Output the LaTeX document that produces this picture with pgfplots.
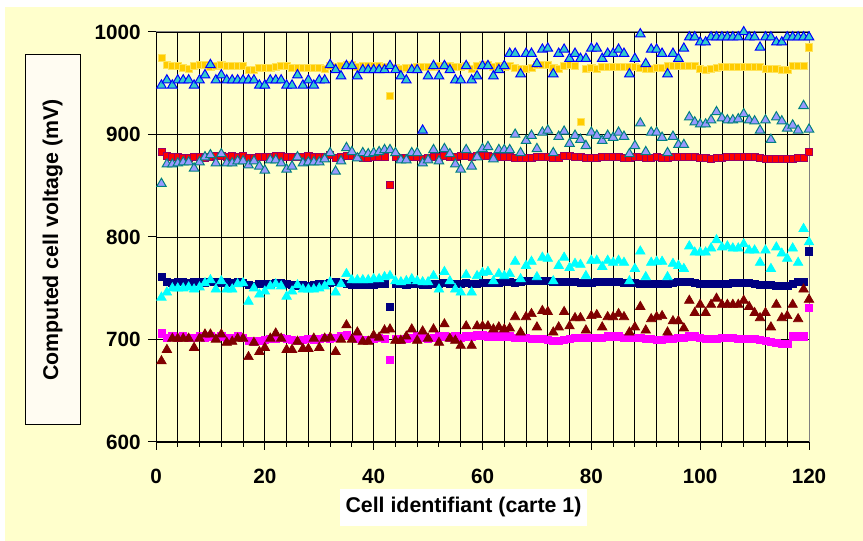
\documentclass[border=0pt]{standalone}
\usepackage{pgfplots}
\pgfplotsset{compat=1.18}
\usepackage{pgfplotstable}
\usepackage{fontspec}
\setmainfont{Liberation Sans}

\definecolor{bgyel}{RGB}{255,255,204}
\definecolor{boxfill}{RGB}{255,252,242}
\definecolor{gold}{RGB}{255,204,0}
\definecolor{goldedge}{RGB}{255,228,90}
\definecolor{redsq}{RGB}{255,0,0}
\definecolor{rededge}{RGB}{153,0,102}
\definecolor{navysq}{RGB}{0,0,128}
\definecolor{magsq}{RGB}{255,0,255}
\definecolor{bluetri}{RGB}{51,204,204}
\definecolor{blueedge}{RGB}{0,0,255}
\definecolor{lavtri}{RGB}{153,153,255}
\definecolor{lavedge}{RGB}{0,128,128}
\definecolor{cyantri}{RGB}{0,255,255}
\definecolor{maroontri}{RGB}{128,0,0}

% cell, then the eight measured voltages (mV)
\pgfplotstableread{
x   yel  blu  red  lav  cya  nav  mar  mag
1   975  948  883  852  741  761  679  706
2   968  953  879  871  746  756  690  702
3   967  948  878  871  750  755  701  703
4   967  953  878  872  750  756  701  702
5   965  953  877  873  750  756  701  703
6   964  953  877  873  751  755  701  702
7   967  948  878  867  749  756  692  702
8   968  953  878  873  751  756  701  703
9   968  958  877  878  755  755  705  702
10  966  968  878  880  758  756  705  703
11  967  953  879  872  749  756  700  702
12  968  958  879  881  757  755  705  703
13  967  953  878  872  749  756  697  702
14  967  953  879  872  749  755  698  702
15  967  953  878  874  754  756  701  703
16  967  953  879  874  755  755  701  702
17  963  953  877  870  737  753  683  699
18  963  953  877  874  750  752  697  698
19  965  948  878  869  744  754  688  699
20  965  948  878  865  747  754  692  700
21  965  953  878  875  752  754  701  701
22  966  953  879  875  754  755  706  701
23  967  953  879  872  752  755  701  702
24  967  948  878  866  742  754  690  701
25  965  948  878  869  747  753  690  700
26  965  958  878  878  753  752  698  699
27  965  948  878  872  749  753  691  700
28  965  953  879  873  749  752  691  701
29  965  948  878  873  749  753  701  700
30  965  953  878  873  750  754  692  701
31  964  953  878  876  752  754  701  702
32  967  968  880  882  756  755  702  701
33  966  963  877  864  746  756  688  702
34  967  957  878  874  754  755  700  703
35  968  967  879  887  764  754  714  704
36  968  967  879  883  758  753  700  702
37  966  957  878  877  758  753  707  701
38  967  963  877  882  758  753  698  700
39  967  963  877  881  758  753  698  700
40  967  963  878  882  759  753  704  701
41  967  963  878  883  759  754  702  702
42  966  963  878  885  761  754  709  701
43  938  967  851  885  762  732  710  680
44  965  963  878  882  757  754  699  701
45  964  957  877  875  756  754  699  700
46  965  953  877  875  757  753  703  701
47  965  963  878  882  759  754  710  702
48  966  963  878  882  757  754  699  703
49  966  904  876  872  756  753  708  702
50  966  957  877  875  756  753  701  701
51  966  967  878  885  762  754  710  702
52  967  957  878  874  749  754  697  703
53  967  967  879  886  766  755  715  703
54  967  963  878  881  757  754  701  702
55  966  953  878  871  749  754  699  703
56  966  953  879  866  746  754  694  702
57  967  967  879  885  763  755  713  703
58  964  953  878  869  746  754  694  703
59  967  957  879  878  762  754  713  704
60  968  967  879  886  765  755  713  704
61  968  967  879  888  766  755  713  703
62  966  957  878  876  757  755  710  703
63  967  963  878  885  764  755  712  703
64  966  967  878  885  762  756  710  703
65  967  979  878  885  764  756  711  703
66  965  979  877  900  776  755  722  702
67  964  959  877  882  759  756  707  702
68  964  979  877  894  772  757  722  702
69  965  979  877  899  776  757  725  701
70  968  969  878  886  761  757  712  701
71  968  983  878  902  780  757  728  701
72  968  984  878  904  779  757  727  700
73  965  959  877  882  757  756  707  699
74  964  979  877  898  772  756  712  699
75  967  983  879  903  780  756  727  700
76  968  974  879  891  770  756  713  701
77  967  979  878  899  774  756  721  702
78  912  974  878  895  773  755  721  702
79  964  974  877  889  762  755  709  702
80  965  984  877  902  777  755  723  702
81  964  984  877  899  777  756  724  702
82  966  974  878  894  771  756  712  702
83  966  979  878  899  777  756  722  703
84  966  979  878  897  775  756  722  703
85  966  983  878  902  777  756  725  703
86  966  979  877  898  775  755  722  702
87  966  959  877  881  757  755  707  702
88  966  974  878  889  769  755  712  702
89  965  998  878  911  786  754  732  702
90  964  969  877  883  761  754  709  701
91  964  983  877  902  775  754  720  701
92  965  983  878  902  776  754  722  700
93  965  979  877  897  776  754  723  700
94  967  959  877  882  761  754  707  701
95  967  979  878  898  774  755  718  701
96  967  974  878  890  772  756  718  702
97  967  984  878  890  769  756  711  702
98  967  995  878  917  791  756  738  703
99  967  995  878  912  785  755  726  703
100 964  990  877  910  785  754  734  702
101 963  990  877  910  785  754  726  701
102 964  995  876  914  789  754  734  701
103 965  995  877  922  797  754  740  701
104 966  995  877  916  790  754  734  702
105 966  995  878  914  791  754  734  702
106 966  995  878  914  789  755  734  702
107 966  995  878  915  789  755  734  701
108 966  1000 878  920  793  755  738  701
109 966  995  878  914  787  755  732  701
110 966  995  878  913  787  754  726  701
111 966  985  877  904  775  753  721  700
112 964  995  876  914  787  753  726  699
113 964  995  876  895  769  753  712  698
114 964  990  876  917  790  752  734  697
115 963  990  876  913  784  752  721  696
116 963  995  876  906  779  752  723  696
117 967  995  876  909  789  754  734  703
118 967  995  877  904  775  756  720  703
119 967  995  877  928  808  756  749  703
120 985  995  883  905  795  786  739  731
}\cells

\begin{document}
\begin{tikzpicture}[x=1pt,y=1pt]
\useasboundingbox (-117,-74.25) rectangle (530.25,331.5);
\fill[white] (-117,-74.25) rectangle (530.25,331.5);
\fill[bgyel] (-113.25,-74.25) rectangle (530.25,326.25);
\begin{axis}[
    at={(0,0)}, anchor=south west,
    scale only axis,
    width=489.75pt, height=307.5pt,
    xmin=0, xmax=120, ymin=600, ymax=1000,
    xtick={0,20,...,120},
    minor x tick num=4,
    ytick={600,700,...,1000},
    xmajorgrids=true, xminorgrids=true, ymajorgrids=true,
    major grid style={black, line width=0.6pt},
    minor grid style={black, line width=0.6pt},
    axis line style={gray, line width=0.75pt},
    tick pos=left,
    tick align=outside,
    major tick length=6pt,
    minor tick length=3.5pt,
    every tick/.style={black, line width=0.75pt},
    ticklabel style={font=\fontsize{15.5}{18}\selectfont\bfseries},
    /pgf/number format/assume math mode=true,
    /pgf/number format/1000 sep={},
    yticklabel style={xshift=-2pt},
    xticklabel style={yshift=-10.5pt},
    clip=false,
    only marks,
]
\addplot[mark=square*, mark size=2.7pt, mark options={fill=gold, draw=goldedge, line width=0.5pt}] table[x=x, y=yel] {\cells};
\addplot[mark=square*, mark size=2.7pt, mark options={fill=redsq, draw=rededge, line width=0.5pt}] table[x=x, y=red] {\cells};
\addplot[mark=square*, mark size=2.7pt, mark options={fill=navysq, draw=navysq, line width=0.5pt}] table[x=x, y=nav] {\cells};
\addplot[mark=square*, mark size=2.7pt, mark options={fill=magsq, draw=magsq, line width=0.5pt}] table[x=x, y=mag] {\cells};
\addplot[mark=triangle*, mark size=4.1pt, mark options={fill=bluetri, draw=blueedge, line width=0.75pt}] table[x=x, y=blu] {\cells};
\addplot[mark=triangle*, mark size=4.1pt, mark options={fill=lavtri, draw=lavedge, line width=0.75pt}] table[x=x, y=lav] {\cells};
\addplot[mark=triangle*, mark size=4.1pt, mark options={fill=cyantri, draw=cyantri, line width=0.5pt}] table[x=x, y=cya] {\cells};
\addplot[mark=triangle*, mark size=4.1pt, mark options={fill=maroontri, draw=maroontri, line width=0.5pt}] table[x=x, y=mar] {\cells};
\draw[black, line width=0.75pt] (rel axis cs:0,1) -- (rel axis cs:0,0) -- (rel axis cs:1,0);
\end{axis}
\node[draw=black, line width=0.75pt, fill=boxfill, minimum width=41.25pt, minimum height=277.5pt, inner sep=0pt] at (-77.6,151.5) {};
\node[rotate=90, font=\fontsize{16}{19}\selectfont\bfseries] at (-77.6,151.5) {Computed cell voltage (mV)};
\node[fill=white, minimum width=185.25pt, minimum height=27.75pt, inner sep=0pt, font=\fontsize{16}{19}\selectfont\bfseries] at (230.6,-49.1) {Cell identifiant (carte 1)};
\end{tikzpicture}
\end{document}
